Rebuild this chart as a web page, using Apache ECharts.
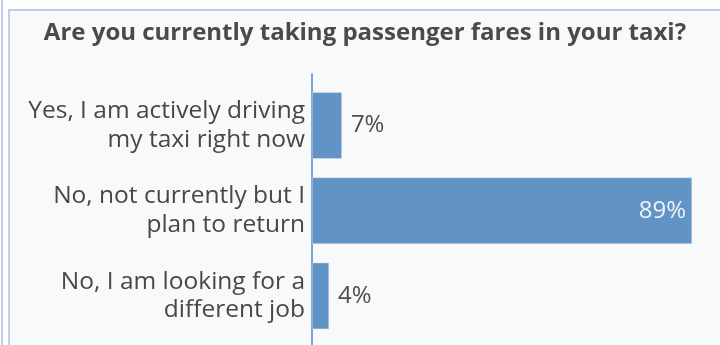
<!DOCTYPE html>
<html>
<head>
<meta charset="utf-8">
<script src="https://cdn.jsdelivr.net/npm/echarts@6/dist/echarts.min.js"></script>
<style>
  html, body { margin: 0; padding: 0; background: #ffffff; }
  body { width: 720px; height: 345px; position: relative; overflow: hidden; }
  .edge { position: absolute; left: 1px; top: 0; width: 2px; height: 345px; background: #bdcfeb; }
  .panel { position: absolute; left: 8px; top: 9px; width: 740px; height: 360px;
           border: 2px solid #bdcfeb; background: #f8f9fb; box-sizing: border-box; }
  #chart { position: absolute; left: 0; top: 0; width: 720px; height: 345px; }
</style>
</head>
<body>
<div class="edge"></div>
<div class="panel"></div>
<div id="chart"></div>
<script>
// Survey question and answers
const titleText = 'Are you currently taking passenger fares in your taxi?';
const categories = [
  'Yes, I am actively driving\nmy taxi right now',
  'No, not currently but I\nplan to return',
  'No, I am looking for a\ndifferent job'
];
// Share of respondents, in percent
const values = [7, 89, 4];

const FONT = 'Open Sans';
const chart = echarts.init(document.getElementById('chart'), null, { renderer: 'canvas' });

chart.setOption({
  backgroundColor: 'transparent',
  animation: false,
  title: {
    text: titleText,
    left: 360,
    textAlign: 'center',
    top: 16,
    textStyle: { fontFamily: FONT, fontSize: 24, fontWeight: 'bold', color: '#4a4a4a' }
  },
  grid: [
    { left: 312, top: 83, width: 427, bottom: 6.5, outerBoundsMode: 'none' },
    { left: 312, top: 74, width: 427, bottom: -20, outerBoundsMode: 'none' }
  ],
  xAxis: [
    { type: 'value', gridIndex: 0, min: 0, max: 100, show: false },
    { type: 'value', gridIndex: 1, min: 0, max: 100, show: false }
  ],
  yAxis: [
    {
      type: 'category', gridIndex: 0, data: categories, inverse: true,
      axisLine: { show: false }, axisTick: { show: false },
      axisLabel: {
        margin: 7, fontFamily: FONT, fontSize: 24.5, lineHeight: 28.5, color: '#474747', align: 'right'
      }
    },
    {
      type: 'value', gridIndex: 1, min: 0, max: 1,
      axisLine: { show: true, lineStyle: { color: '#79a3d4', width: 2 } },
      axisTick: { show: false }, axisLabel: { show: false }, splitLine: { show: false }
    }
  ],
  series: [{
    type: 'bar',
    xAxisIndex: 0, yAxisIndex: 0,
    data: values.map(v => ({
      value: v,
      label: v > 50
        ? { position: 'insideRight', distance: 6, color: '#eef3fa' }
        : { position: 'right', distance: 9, color: '#4d4d4d' }
    })),
    barCategoryGap: '22%',
    itemStyle: { color: '#6193c5', borderColor: '#d8e4f2', borderWidth: 0.5 },
    label: {
      show: true,
      fontFamily: FONT, fontSize: 24,
      formatter: p => p.value + '%'
    }
  }]
});
</script>
</body>
</html>
